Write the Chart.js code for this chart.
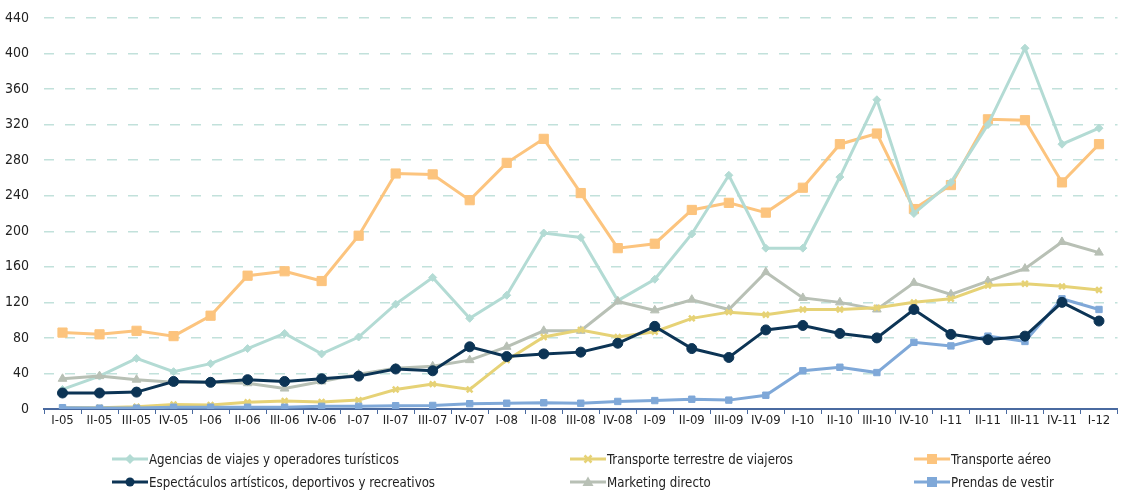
<!DOCTYPE html>
<html>
<head>
<meta charset="utf-8">
<script src="https://cdn.jsdelivr.net/npm/chart.js@4/dist/chart.umd.min.js"></script>
<style>
  body { margin: 0; background: #fff; }
  #wrap { position: relative; width: 1125px; height: 490px; }
  #legend { position: absolute; left: 0; top: 0; width: 1125px; height: 490px; pointer-events: none;
    font-family: "Liberation Sans Narrow", "DejaVu Sans Condensed", sans-serif; font-size: 14px; color: #222; }
  .item { position: absolute; display: flex; align-items: center; height: 16px; white-space: nowrap; }
  .item svg { margin-right: 1px; }
  .item span { display: inline-block; transform: scaleX(0.94); transform-origin: left center; }
</style>
</head>
<body>
<div id="wrap">
  <canvas id="lineChart" width="1125" height="490"></canvas>
  <div id="legend"></div>
</div>
<script>
/* ===========================
   DATA
=========================== */

const quarters = [
  "I-05", "II-05", "III-05", "IV-05",
  "I-06", "II-06", "III-06", "IV-06",
  "I-07", "II-07", "III-07", "IV-07",
  "I-08", "II-08", "III-08", "IV-08",
  "I-09", "II-09", "III-09", "IV-09",
  "I-10", "II-10", "III-10", "IV-10",
  "I-11", "II-11", "III-11", "IV-11",
  "I-12"
];

const agencias = [22, 37, 57, 42, 51, 68, 85, 62, 81, 118, 148, 102, 128, 198, 193, 122,
  146, 197, 263, 181, 181, 261, 348, 220, 255, 320, 406, 298, 316];
const terrestre = [1.5, 1.5, 2.5, 5, 4.5, 7.5, 9, 8, 10, 22, 28, 22, 55, 81, 89, 81,
  87, 102, 109, 106, 112, 112, 114, 120, 124, 139, 141, 138, 134];
const aereo = [86, 84, 88, 82, 105, 150, 155, 144, 195, 265, 264, 235, 277, 304, 243, 181,
  186, 224, 232, 221, 249, 298, 310, 225, 252, 326, 325, 255, 298];
const espectaculos = [18, 18, 19, 31, 30, 33, 31, 34, 37, 45, 43, 70, 59, 62, 64, 74,
  93, 68, 58, 89, 94, 85, 80, 112, 84, 78, 82, 120, 99];
const marketing = [34, 37, 33, 30, 30, 29, 23, 31, 39, 46, 48, 55, 70, 88, 88, 121,
  111, 123, 112, 154, 125, 120, 112, 142, 129, 144, 158, 188, 176];
const prendas = [1.5, 1, 1, 2, 2, 2, 2, 3, 3, 3.7, 4, 6, 6.5, 7, 6.5, 8.5,
  9.5, 11, 10, 15.5, 43, 47, 41, 75, 71, 82, 76, 124, 112];

const yTicks = [0, 40, 80, 120, 160, 200, 240, 280, 320, 360, 400, 440];

/* ===========================
   SERIES STYLE
=========================== */

const series = [
  { label: "Agencias de viajes y operadores turísticos", data: agencias, color: "#b3dbd4", point: "rectRot", r: 4, col: 0, row: 0 },
  { label: "Transporte terrestre de viajeros", data: terrestre, color: "#e6d276", point: "crossRot", r: 4, col: 1, row: 0 },
  { label: "Transporte aéreo", data: aereo, color: "#fcc47e", point: "rect", r: 6.5, col: 2, row: 0 },
  { label: "Espectáculos artísticos, deportivos y recreativos", data: espectaculos, color: "#0c3455", point: "circle", r: 5, col: 0, row: 1 },
  { label: "Marketing directo", data: marketing, color: "#b8c0b5", point: "triangle", r: 5, col: 1, row: 1 },
  { label: "Prendas de vestir", data: prendas, color: "#7fa8d8", point: "rect", r: 4.5, col: 2, row: 1 }
];

// draw order: back to front like the reference
const drawOrder = [2, 0, 4, 1, 5, 3];

const FONT = "'Liberation Sans Narrow', 'DejaVu Sans Condensed', sans-serif";

const ctx = document.getElementById("lineChart").getContext("2d");

new Chart(ctx, {
  type: "line",
  data: {
    labels: quarters,
    datasets: series.map((s, i) => ({
      label: s.label,
      data: s.data,
      borderColor: s.color,
      backgroundColor: s.color,
      borderWidth: 3,
      pointStyle: s.point,
      pointRadius: s.r,
      pointBorderWidth: s.point === "crossRot" ? 2.5 : 1,
      pointBorderColor: s.color,
      pointBackgroundColor: s.color,
      tension: 0,
      order: drawOrder.length - drawOrder.indexOf(i)
    }))
  },
  options: {
    responsive: false,
    animation: false,
    layout: { padding: { top: 18, right: 0, bottom: 63, left: 0 } },
    plugins: {
      legend: { display: false },
      tooltip: { enabled: false }
    },
    scales: {
      x: {
        offset: true,
        grid: {
          display: true,
          drawOnChartArea: false,
          drawTicks: true,
          tickLength: 5,
          color: "#4a6aa0",
          offset: true
        },
        border: { display: true, color: "#4a6aa0", width: 2 },
        ticks: {
          color: "#222",
          font: { family: FONT, size: 13, lineHeight: 1 },
          maxRotation: 0,
          autoSkip: false,
          padding: 0
        }
      },
      y: {
        min: 0,
        max: 440,
        afterFit: (scale) => {
          scale.width = 44;
          scale.paddingTop = 0;
          scale.paddingBottom = 0;
        },
        afterBuildTicks: (scale) => { scale.ticks = yTicks.map(v => ({ value: v })); },
        grid: {
          color: (c) => c.tick && c.tick.value === 0 ? "rgba(0,0,0,0)" : "#c2e1db",
          lineWidth: 1.5,
          drawTicks: false
        },
        border: { display: false, dash: [10, 11] },
        ticks: {
          color: "#222",
          font: { family: FONT, size: 14 },
          padding: 15
        }
      }
    }
  }
});

/* ===========================
   LEGEND
=========================== */

const colX = [112, 570, 914];
const rowY = [451, 474];

function markerSvg(s) {
  const c = s.color;
  let m = "";
  if (s.point === "rectRot") m = `<polygon points="18,1 23,6 18,11 13,6" fill="${c}"/>`;
  if (s.point === "rect") m = `<rect x="13" y="1" width="10" height="10" fill="${c}"/>`;
  if (s.point === "circle") m = `<circle cx="18" cy="6" r="4.5" fill="${c}"/>`;
  if (s.point === "triangle") m = `<polygon points="18,0.5 23.5,10 12.5,10" fill="${c}"/>`;
  if (s.point === "crossRot") m = `<path d="M14.5 2.5 L21.5 9.5 M21.5 2.5 L14.5 9.5" stroke="${c}" stroke-width="2.5"/>`;
  return `<svg width="36" height="12"><line x1="0" y1="6" x2="36" y2="6" stroke="${c}" stroke-width="3"/>${m}</svg>`;
}

const legend = document.getElementById("legend");
series.forEach(s => {
  const el = document.createElement("div");
  el.className = "item";
  el.style.left = colX[s.col] + "px";
  el.style.top = rowY[s.row] + "px";
  el.innerHTML = markerSvg(s) + "<span>" + s.label + "</span>";
  legend.appendChild(el);
});
</script>
</body>
</html>
